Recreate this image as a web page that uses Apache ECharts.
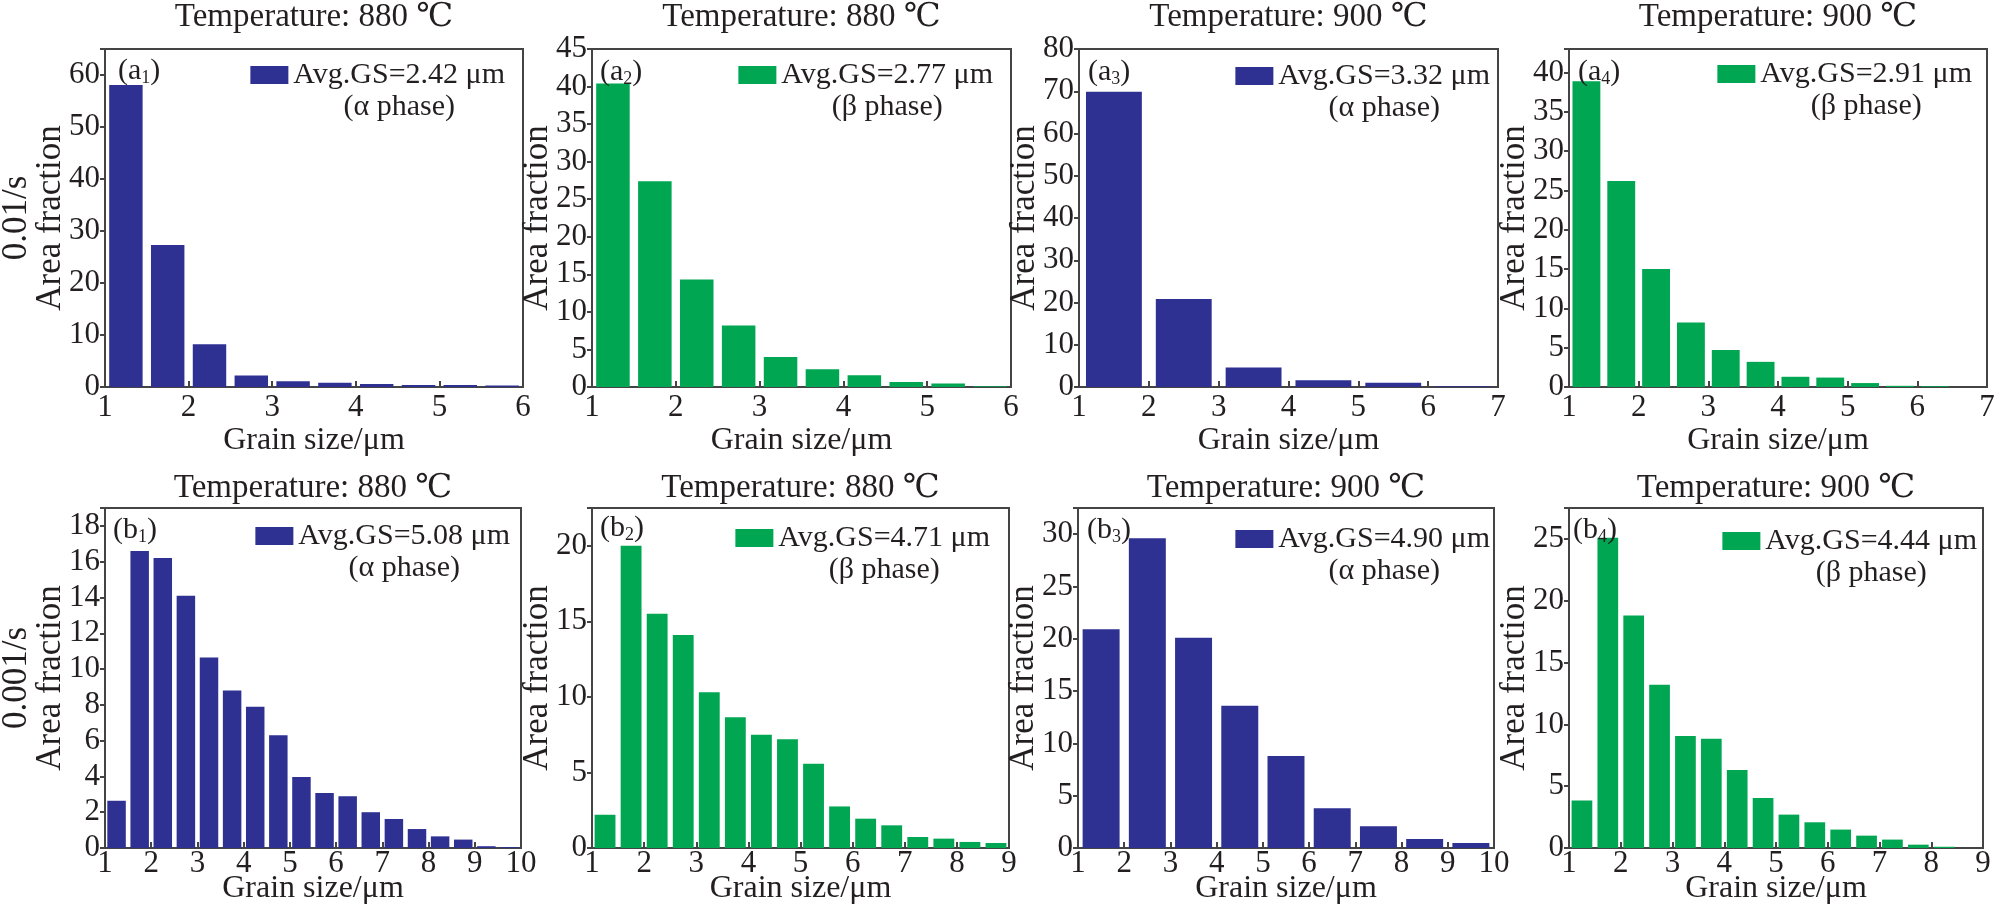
<!DOCTYPE html>
<html lang="en">
<head>
<meta charset="UTF-8">
<title>Grain size distribution</title>
<script src="https://cdn.jsdelivr.net/npm/echarts@6.0.0/dist/echarts.min.js"></script>
<style>
  html, body { margin: 0; padding: 0; background: #fff; }
  #main { width: 1995px; height: 918px; }
</style>
</head>
<body>
<div id="main"></div>
<script>
// bin centres, grain size in µm
const binsA12 = ['1.25', '1.75', '2.25', '2.75', '3.25', '3.75', '4.25', '4.75', '5.25', '5.75'];
const binsA3 = ['1.5', '2.5', '3.5', '4.5', '5.5', '6.5'];
const binsA4 = ['1.25', '1.75', '2.25', '2.75', '3.25', '3.75', '4.25', '4.75', '5.25', '5.75', '6.25', '6.75'];
const binsB1 = ['1.25', '1.75', '2.25', '2.75', '3.25', '3.75', '4.25', '4.75', '5.25', '5.75',
                '6.25', '6.75', '7.25', '7.75', '8.25', '8.75', '9.25', '9.75'];
const binsB24 = ['1.25', '1.75', '2.25', '2.75', '3.25', '3.75', '4.25', '4.75', '5.25', '5.75',
                 '6.25', '6.75', '7.25', '7.75', '8.25', '8.75'];
const binsB3 = ['1.5', '2.5', '3.5', '4.5', '5.5', '6.5', '7.5', '8.5', '9.5'];

// area fraction (%)
const fracA1 = [58.1, 27.3, 8.2, 2.2, 1.1, 0.8, 0.6, 0.4, 0.4, 0.3];
const fracA2 = [40.4, 27.4, 14.3, 8.2, 4.0, 2.35, 1.55, 0.67, 0.45, 0.1];
const fracA3 = [69.9, 20.8, 4.6, 1.6, 1.0, 0.2];
const fracA4 = [38.9, 26.2, 15.0, 8.2, 4.7, 3.2, 1.3, 1.2, 0.5, 0.15, 0.1, 0];
const fracB1 = [2.64, 16.6, 16.2, 14.1, 10.65, 8.8, 7.9, 6.3, 3.97, 3.07, 2.89, 2.0, 1.62, 1.06, 0.65, 0.47, 0.1, 0.05];
const fracB2 = [2.2, 20.0, 15.5, 14.1, 10.3, 8.65, 7.5, 7.2, 5.57, 2.75, 1.94, 1.5, 0.73, 0.62, 0.4, 0.33];
const fracB3 = [20.9, 29.6, 20.1, 13.6, 8.8, 3.8, 2.07, 0.86, 0.48];
const fracB4 = [3.84, 25.1, 18.8, 13.2, 9.05, 8.84, 6.3, 4.05, 2.7, 2.08, 1.49, 1.0, 0.68, 0.27, 0.1, 0];

const panelIds = ['a1', 'a2', 'a3', 'a4', 'b1', 'b2', 'b3', 'b4'];
const temperatures = ['880', '880', '900', '900', '880', '880', '900', '900'];
const avgGS = ['2.42', '2.77', '3.32', '2.91', '5.08', '4.71', '4.90', '4.44'];
const phases = ['α', 'β', 'α', 'β', 'α', 'β', 'α', 'β'];
const binSets = [binsA12, binsA12, binsA3, binsA4, binsB1, binsB24, binsB3, binsB24];
const fracSets = [fracA1, fracA2, fracA3, fracA4, fracB1, fracB2, fracB3, fracB4];
const xMin = [1, 1, 1, 1, 1, 1, 1, 1];
const xMax = [6, 6, 7, 7, 10, 9, 10, 9];
const yMax = [65, 45, 80, 43, 19, 22.5, 32.5, 27.5];
const yStep = [10, 5, 10, 5, 2, 5, 5, 5];
const yNames = ['0.01/s\nArea fraction', 'Area fraction', 'Area fraction', 'Area fraction',
                '0.001/s\nArea fraction', 'Area fraction', 'Area fraction', 'Area fraction'];

// layout: plot boxes [left, top, right, bottom] in px
const boxes = [
  [105, 49, 523, 387], [592, 49, 1011, 387], [1079, 49, 1498, 387], [1569, 49, 1987, 387],
  [105, 508, 521, 848], [592, 508, 1009, 848], [1078, 508, 1494, 848], [1569, 508, 1983, 848]
];
const legendEndGap = [18, 18, 8, 15, 11, 19, 4, 6];
const legendIconTop = [67, 67, 68, 66, 528, 530, 531, 533];
const tagOffset = [13, 8, 9, 9, 8, 8, 9, 4];
const tagMidY = [71, 72, 72, 72, 530, 528, 530, 530];

const W = 1995;
const FONT = '"Liberation Serif", "DejaVu Serif", serif';
const TEXT = '#231f20';
const AXIS = '#444';
const BLUE = '#2e3192';
const GREEN = '#00a651';

const chart = echarts.init(document.getElementById('main'));

const option = {
  animation: false,
  backgroundColor: '#fff',
  textStyle: { fontFamily: FONT, color: TEXT },
  title: [], legend: [], grid: [], xAxis: [], yAxis: [], series: []
};

panelIds.forEach((id, i) => {
  const [L, T, R, B] = boxes[i];
  const topRow = i < 4;
  const name = 'Avg.GS=' + avgGS[i] + ' μm';
  const phase = phases[i];

  option.grid.push({
    left: L, top: T, width: R - L, height: B - T,
    show: true, borderColor: AXIS, borderWidth: 2,
    outerBoundsMode: 'none'
  });

  // visible grain-size axis
  option.xAxis.push({
    gridIndex: i, type: 'value', position: 'bottom',
    min: xMin[i], max: xMax[i], interval: 1,
    axisLine: { show: true, onZero: false, lineStyle: { color: AXIS, width: 2 } },
    axisTick: { show: true, inside: true, length: 6, lineStyle: { color: AXIS, width: 2 } },
    axisLabel: { fontSize: 31, fontFamily: FONT, color: TEXT, margin: topRow ? 5 : 0 },
    splitLine: { show: false },
    name: 'Grain size/μm', nameLocation: 'middle', nameGap: topRow ? 38 : 25,
    nameMoveOverlap: false,
    nameTextStyle: { fontSize: 32, fontFamily: FONT, color: TEXT }
  });
  // hidden bin axis for the bars
  option.xAxis.push({
    gridIndex: i, type: 'category', data: binSets[i], show: false, boundaryGap: true
  });

  option.yAxis.push({
    gridIndex: i, type: 'value', min: 0, max: yMax[i], interval: yStep[i],
    axisLine: { show: true, onZero: false, lineStyle: { color: AXIS, width: 2 } },
    axisTick: { show: true, inside: false, length: 5, lineStyle: { color: AXIS, width: 2 } },
    axisLabel: {
      fontSize: 31, fontFamily: FONT, color: TEXT, margin: 5,
      formatter: v => (Math.abs(v / yStep[i] - Math.round(v / yStep[i])) < 1e-6 ? String(v) : '')
    },
    splitLine: { show: false },
    name: yNames[i], nameLocation: 'middle', nameGap: 37,
    nameMoveOverlap: false,
    nameTextStyle: { fontSize: 35, lineHeight: 34, fontFamily: FONT, color: TEXT }
  });

  option.series.push({
    type: 'bar', name: name,
    xAxisIndex: 2 * i + 1, yAxisIndex: i,
    data: fracSets[i],
    barCategoryGap: '20%',
    itemStyle: { color: phase === 'α' ? BLUE : GREEN }
  });

  option.title.push({
    text: 'Temperature: ' + temperatures[i] + ' ℃',
    left: (L + R) / 2, top: topRow ? 0 : 471, textAlign: 'center', padding: 0,
    textStyle: { fontSize: 33, lineHeight: 34, fontWeight: 'normal', fontFamily: FONT, color: TEXT }
  });
  option.title.push({
    text: '(' + id[0] + '{s|' + id[1] + '})',
    left: L + tagOffset[i], top: tagMidY[i] - 16, padding: 0,
    textStyle: {
      fontSize: 30, lineHeight: 32, fontWeight: 'normal', fontFamily: FONT, color: TEXT,
      rich: { s: { fontSize: 18, verticalAlign: 'bottom', fontFamily: FONT, color: TEXT } }
    }
  });

  option.legend.push({
    data: [name], selectedMode: false,
    right: W - (R - legendEndGap[i]), top: legendIconTop[i] - 39,
    padding: 0, icon: 'rect', itemWidth: 38, itemHeight: 18, itemGap: 0,
    formatter: n => '{e| }\n{t|' + n + '}\n{p|(' + phase + ' phase)}',
    textStyle: {
      rich: {
        e: { fontSize: 30, lineHeight: 32, fontFamily: FONT },
        t: { fontSize: 30, lineHeight: 32, fontFamily: FONT, color: TEXT },
        p: { fontSize: 30, lineHeight: 32, fontFamily: FONT, color: TEXT, align: 'center' }
      }
    }
  });
});

chart.setOption(option);
</script>
</body>
</html>
